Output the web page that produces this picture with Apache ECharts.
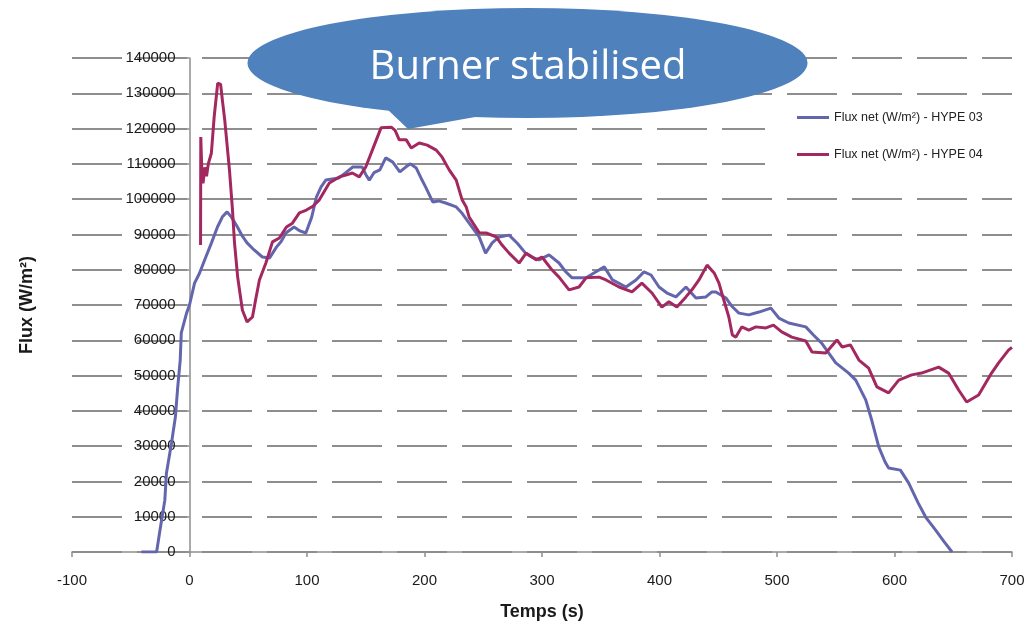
<!DOCTYPE html>
<html>
<head>
<meta charset="utf-8">
<script src="https://cdn.jsdelivr.net/npm/echarts@6/dist/echarts.min.js"></script>
<style>
  html, body { margin: 0; padding: 0; background: #fff; }
  #chart { width: 1030px; height: 623px; }
</style>
</head>
<body>
<div id="chart"></div>
<script>
// Net heat flux measured by the two gauges, [time (s), flux (W/m²)]
var hype03Name = 'Flux net (W/m\u00B2) - HYPE 03';
var hype04Name = 'Flux net (W/m\u00B2) - HYPE 04';

var hype03 = [
  [-41, 0], [-28, 0], [-25.5, 5400], [-21, 14700], [-19.6, 22400], [-15.3, 30900],
  [-12, 38300], [-10, 46800], [-7.9, 54400], [-7, 62100], [-2.5, 67700], [0, 70000],
  [4.3, 76200], [8.5, 79000], [12.8, 82700], [18.7, 87600], [23.8, 92100], [28, 95000],
  [32, 96400], [35.7, 94900], [40.8, 92100], [45, 89500], [49, 87600], [55, 85600],
  [62, 83600], [68, 83300], [74, 86400], [78, 88000], [82, 90400], [89, 92100],
  [94, 91000], [99, 90400], [104, 94900], [108, 100600], [112, 103500], [116, 105400],
  [127, 106000], [133, 107500], [139, 109100], [147, 109100], [150, 107000], [153, 105400],
  [157, 107500], [162, 108300], [167, 111700], [173, 110500], [179, 107700], [184, 109100],
  [188, 110000], [193, 108800], [197, 106000], [201, 103400], [207, 99200], [212, 99500],
  [218, 98900], [227, 97800], [232, 96000], [238, 93200], [246.5, 89300], [252, 84700],
  [257.6, 87600], [263.5, 89300], [272, 89800], [279, 87500], [286, 84700], [292, 83500],
  [297.5, 82800], [306, 84200], [314.5, 81900], [320, 79500], [325.6, 77700], [337.5, 77700],
  [346, 79400], [353, 80800], [360, 77100], [371.5, 75100], [380, 77100], [386.8, 79400],
  [392.8, 78500], [399.6, 75100], [406.4, 73400], [414, 72300], [422.5, 75100], [431, 72000],
  [439.5, 72300], [444.6, 73700], [448, 73700], [456.5, 72000], [462, 69500], [467.6, 67700],
  [476, 67200], [484.6, 68000], [494.8, 69100], [501.6, 66300], [510, 64900], [524.5, 63800],
  [531, 61500], [538, 59200], [550, 53600], [561, 50700], [567, 48700], [575.5, 43100],
  [580.6, 37400], [586.6, 29800], [592, 25500], [595, 23800], [605, 23200], [612, 19600],
  [620, 14000], [626.5, 9900], [635, 6200], [642, 3000], [649, 0]
];

var hype04 = [
  [9.4, 87000], [9.6, 117600], [10.5, 108000], [11.5, 104500], [13, 109000], [14.5, 106500],
  [16, 110000], [18.6, 113000], [21, 123300], [24, 132900], [26.5, 132500], [28, 128000],
  [30, 122400], [34, 108300], [36.6, 96900], [38.3, 87600], [41, 77900], [45, 68600],
  [49, 65200], [53.6, 66600], [56, 71000], [59.5, 77100], [65, 81900], [70.6, 87900],
  [76.5, 89000], [82.5, 92100], [87.6, 93200], [93.5, 96100], [99.5, 96900], [105, 98000],
  [110.5, 99800], [119, 104600], [127.5, 106300], [133, 106800], [138.6, 107400], [144.5, 106300],
  [150, 109100], [155.6, 113900], [163, 120200], [171.7, 120400], [175, 119500], [178.5, 116800],
  [184.5, 116800], [188.7, 114500], [195.5, 115900], [202.3, 115300], [210, 113900], [215, 111900],
  [221, 108300], [227, 105400], [232, 99800], [235.5, 97800], [238, 94900], [246.5, 90500],
  [252.5, 90400], [261, 89300], [266, 87000], [272, 84700], [280.5, 81900], [286.5, 84700],
  [295, 82800], [300, 83600], [308.6, 79900], [314.5, 77900], [323, 74300], [331.5, 75100],
  [337.5, 77700], [348.6, 77900], [354.5, 77100], [365.6, 75100], [376.6, 73700], [385, 76200],
  [393.6, 73400], [402, 69400], [408, 70900], [414.8, 69400], [422.5, 72300], [427.6, 74300],
  [433.6, 77100], [440.5, 81300], [446.5, 79100], [450.6, 76200], [453, 73400], [459, 66600],
  [462, 61500], [465, 60900], [470, 63800], [476, 62900], [482, 63800], [490.5, 63500],
  [497, 64300], [504, 62400], [512.6, 60900], [524.5, 59800], [529.8, 56700], [541.5, 56400],
  [551, 60100], [555.5, 58100], [562.5, 58700], [569.7, 54400], [578, 52100], [585, 46800],
  [595, 45100], [603.6, 48700], [614.6, 50200], [623, 50700], [637.6, 52400], [646, 50700],
  [654.6, 45900], [661.4, 42500], [671.6, 44500], [682.6, 50700], [688.6, 53600], [697, 57200],
  [700, 58000]
];

var xAxisName = 'Temps (s)';
var yAxisName = 'Flux (W/m\u00B2)';
var calloutText = 'Burner stabilised';

var xMin = -100, xMax = 700;
var gray = '#8e8e8e';
var labelFont = 'Liberation Sans';
var calloutBlue = '#4f81bd';

var gridLeft = 72, gridRight = 18;
var plotWidth = 1030 - gridLeft - gridRight;
// the vertical axis sits on t = 0, not on the left edge of the plot
var yAxisShift = (0 - xMin) / (xMax - xMin) * plotWidth;

var chart = echarts.init(document.getElementById('chart'), null, { renderer: 'canvas' });

chart.setOption({
  backgroundColor: '#ffffff',
  animation: false,
  grid: { left: gridLeft, right: gridRight, top: 58, bottom: 71, containLabel: false, outerBoundsMode: 'none' },
  legend: {
    orient: 'vertical',
    left: 765,
    top: 98,
    padding: [13, 40, 25, 32],
    backgroundColor: '#ffffff',
    icon: 'rect',
    itemWidth: 32,
    itemHeight: 3,
    itemGap: 24,
    textStyle: { fontFamily: labelFont, fontSize: 12.5, color: '#222' },
    data: [hype03Name, hype04Name]
  },
  xAxis: {
    type: 'value',
    min: xMin,
    max: xMax,
    interval: 100,
    name: xAxisName,
    nameLocation: 'middle',
    nameGap: 51,
    nameTextStyle: { fontFamily: labelFont, fontSize: 18, fontWeight: 'bold', color: '#1a1a1a' },
    axisLine: { show: true, lineStyle: { color: gray, width: 1.5 } },
    axisTick: { show: true, length: 5, lineStyle: { color: gray, width: 1.5 } },
    axisLabel: { margin: 21, fontFamily: labelFont, fontSize: 15, color: '#1a1a1a' },
    splitLine: { show: false }
  },
  yAxis: {
    type: 'value',
    min: 0,
    max: 140000,
    interval: 10000,
    position: 'left',
    offset: -yAxisShift,
    name: yAxisName,
    nameLocation: 'middle',
    nameGap: 153,
    nameTextStyle: { fontFamily: labelFont, fontSize: 18, fontWeight: 'bold', color: '#1a1a1a' },
    axisLine: { show: true, onZero: false, lineStyle: { color: gray, width: 1.5 } },
    axisTick: { show: true, length: 5, lineStyle: { color: gray, width: 1.5 } },
    axisLabel: {
      margin: 14, fontFamily: labelFont, fontSize: 15, color: '#1a1a1a',
      formatter: function (v) { return String(v); }
    },
    splitLine: { show: true, lineStyle: { color: gray, width: 2.2, type: [50, 15] } }
  },
  series: [
    {
      name: hype03Name,
      type: 'line',
      data: hype03,
      showSymbol: false,
      symbol: 'none',
      clip: true,
      lineStyle: { color: '#6466ad', width: 3 },
      itemStyle: { color: '#6466ad' }
    },
    {
      name: hype04Name,
      type: 'line',
      data: hype04,
      showSymbol: false,
      symbol: 'none',
      clip: true,
      lineStyle: { color: '#a3285f', width: 3 },
      itemStyle: { color: '#a3285f' }
    }
  ],
  graphic: [
    {
      type: 'circle',
      zlevel: 1,
      z: 100,
      x: 527.5, y: 63,
      scaleX: 280 / 55, scaleY: 1,
      shape: { cx: 0, cy: 0, r: 55 },
      style: { fill: calloutBlue }
    },
    {
      type: 'polygon',
      zlevel: 1,
      z: 100,
      shape: { points: [[386, 108], [408, 129], [492, 114]] },
      style: { fill: calloutBlue }
    },
    {
      type: 'text',
      zlevel: 1,
      z: 101,
      x: 528, y: 68,
      style: {
        text: calloutText,
        fill: '#ffffff',
        font: '40px "Open Sans"',
        align: 'center',
        verticalAlign: 'middle'
      }
    }
  ]
});
</script>
</body>
</html>
